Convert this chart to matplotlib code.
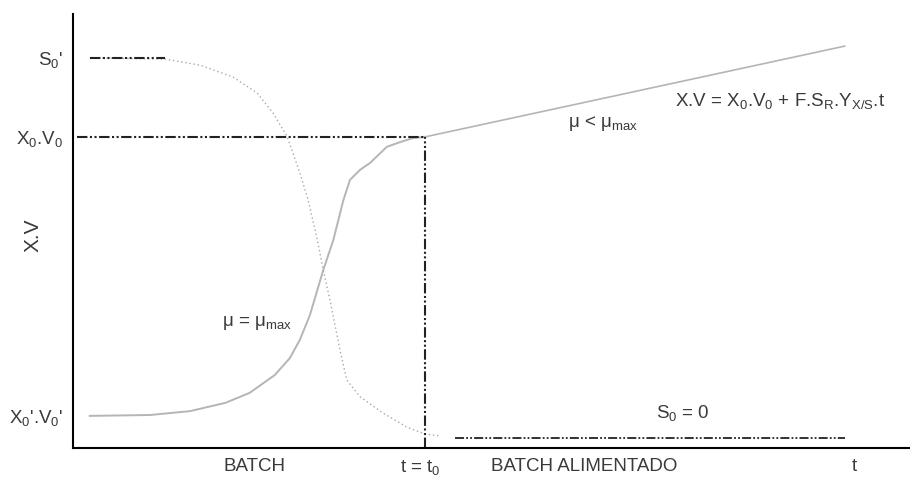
import matplotlib.pyplot as plt

plt.rcParams['font.family'] = ['Liberation Sans', 'DejaVu Sans']
plt.rcParams['mathtext.fontset'] = 'custom'
plt.rcParams['mathtext.rm'] = 'Liberation Sans'
plt.rcParams['mathtext.it'] = 'Liberation Sans'

# biomass (X.V) during batch phase
t_batch = [0.20, 0.92, 1.40, 1.82, 2.11, 2.41, 2.59, 2.71, 2.83, 2.99, 3.11,
           3.23, 3.31, 3.43, 3.55, 3.75, 3.91, 4.06, 4.21]
xv_batch = [0.74, 0.76, 0.85, 1.04, 1.27, 1.68, 2.07, 2.49, 3.06, 4.10, 4.79,
            5.71, 6.18, 6.41, 6.57, 6.94, 7.05, 7.14, 7.17]

# substrate during batch phase
t_subs = [0.20, 1.10, 1.52, 1.91, 2.20, 2.39, 2.56, 2.71, 2.81, 2.92, 2.99,
          3.07, 3.19, 3.27, 3.43, 3.70, 3.99, 4.21, 4.38]
s_subs = [8.99, 8.96, 8.82, 8.55, 8.18, 7.72, 7.17, 6.34, 5.71, 4.79, 4.10,
          3.41, 2.26, 1.57, 1.18, 0.81, 0.48, 0.32, 0.28]

# fed batch: linear growth of X.V
t_fed = [4.21, 9.22]
xv_fed = [7.17, 9.26]

t0 = 4.21
x0v0 = 7.17
s0_init = 8.99
x0v0_init = 0.74
s_zero = 0.23
t_s_zero = [4.56, 9.22]

ytick_pos = [x0v0_init, x0v0, s0_init]
ytick_lab = [r"X$_\mathregular{0}$'.V$_\mathregular{0}$'",
             r"X$_\mathregular{0}$.V$_\mathregular{0}$",
             r"S$_\mathregular{0}$'"]
xtick_pos = [2.17, 4.15, 6.11, 9.34]
xtick_lab = ["BATCH", r"t = t$_\mathregular{0}$", "BATCH ALIMENTADO", "t"]

txt = '#3a3a3a'
fs = 13.5
dashdot = (0, (5, 1.2, 1, 1.2, 1, 1.2))

fig = plt.figure(figsize=(9.1, 4.83), dpi=100)
ax = fig.add_axes([73 / 910, 35 / 483, 837 / 910, 434 / 483])

ax.plot(t_batch, xv_batch, color='#b5b5b5', lw=1.4)
ax.plot(t_fed, xv_fed, color='#b5b5b5', lw=1.2)
ax.plot(t_subs, s_subs, color='#a8a8a8', lw=1.0, ls=(0, (1, 2)))

ax.plot([0.05, t0], [x0v0, x0v0], color='#222222', lw=1.5, ls=dashdot)
ax.plot([t0, t0], [0, x0v0], color='#222222', lw=1.5, ls=dashdot)
ax.plot([t_subs[0], t_subs[1]], [s0_init, s0_init], color='#222222', lw=1.5, ls=dashdot)
ax.plot(t_s_zero, [s_zero, s_zero], color='#222222', lw=1.3, ls=dashdot)

ax.set_xlim(0, 10)
ax.set_ylim(0, 10)
for side in ['top', 'right']:
    ax.spines[side].set_visible(False)
ax.spines['left'].set_linewidth(1.5)
ax.spines['bottom'].set_linewidth(1.5)

ax.set_yticks(ytick_pos)
ax.set_yticklabels(ytick_lab, fontsize=fs, color=txt)
ax.set_xticks(xtick_pos)
ax.set_xticklabels(xtick_lab, fontsize=fs, color=txt)
ax.tick_params(length=0, pad=7)
ax.set_ylabel("X.V", fontsize=15, color=txt)
ax.yaxis.set_label_coords(-0.036, 0.49)

ax.text(7.28, 0.80, r"S$_\mathregular{0}$ = 0", fontsize=fs, color=txt, ha='center', va='center')
ax.text(5.91, 7.47, r"μ < μ$_\mathregular{max}$", fontsize=fs, color=txt, va='center')
ax.text(7.19, 8.00, r"X.V = X$_\mathregular{0}$.V$_\mathregular{0}$ + F.S$_\mathregular{R}$.Y$_\mathregular{X/S}$.t",
        fontsize=fs, color=txt, va='center')
ax.text(1.78, 2.88, r"μ = μ$_\mathregular{max}$", fontsize=fs, color=txt, va='center')

fig.savefig('out.png', dpi=100)
